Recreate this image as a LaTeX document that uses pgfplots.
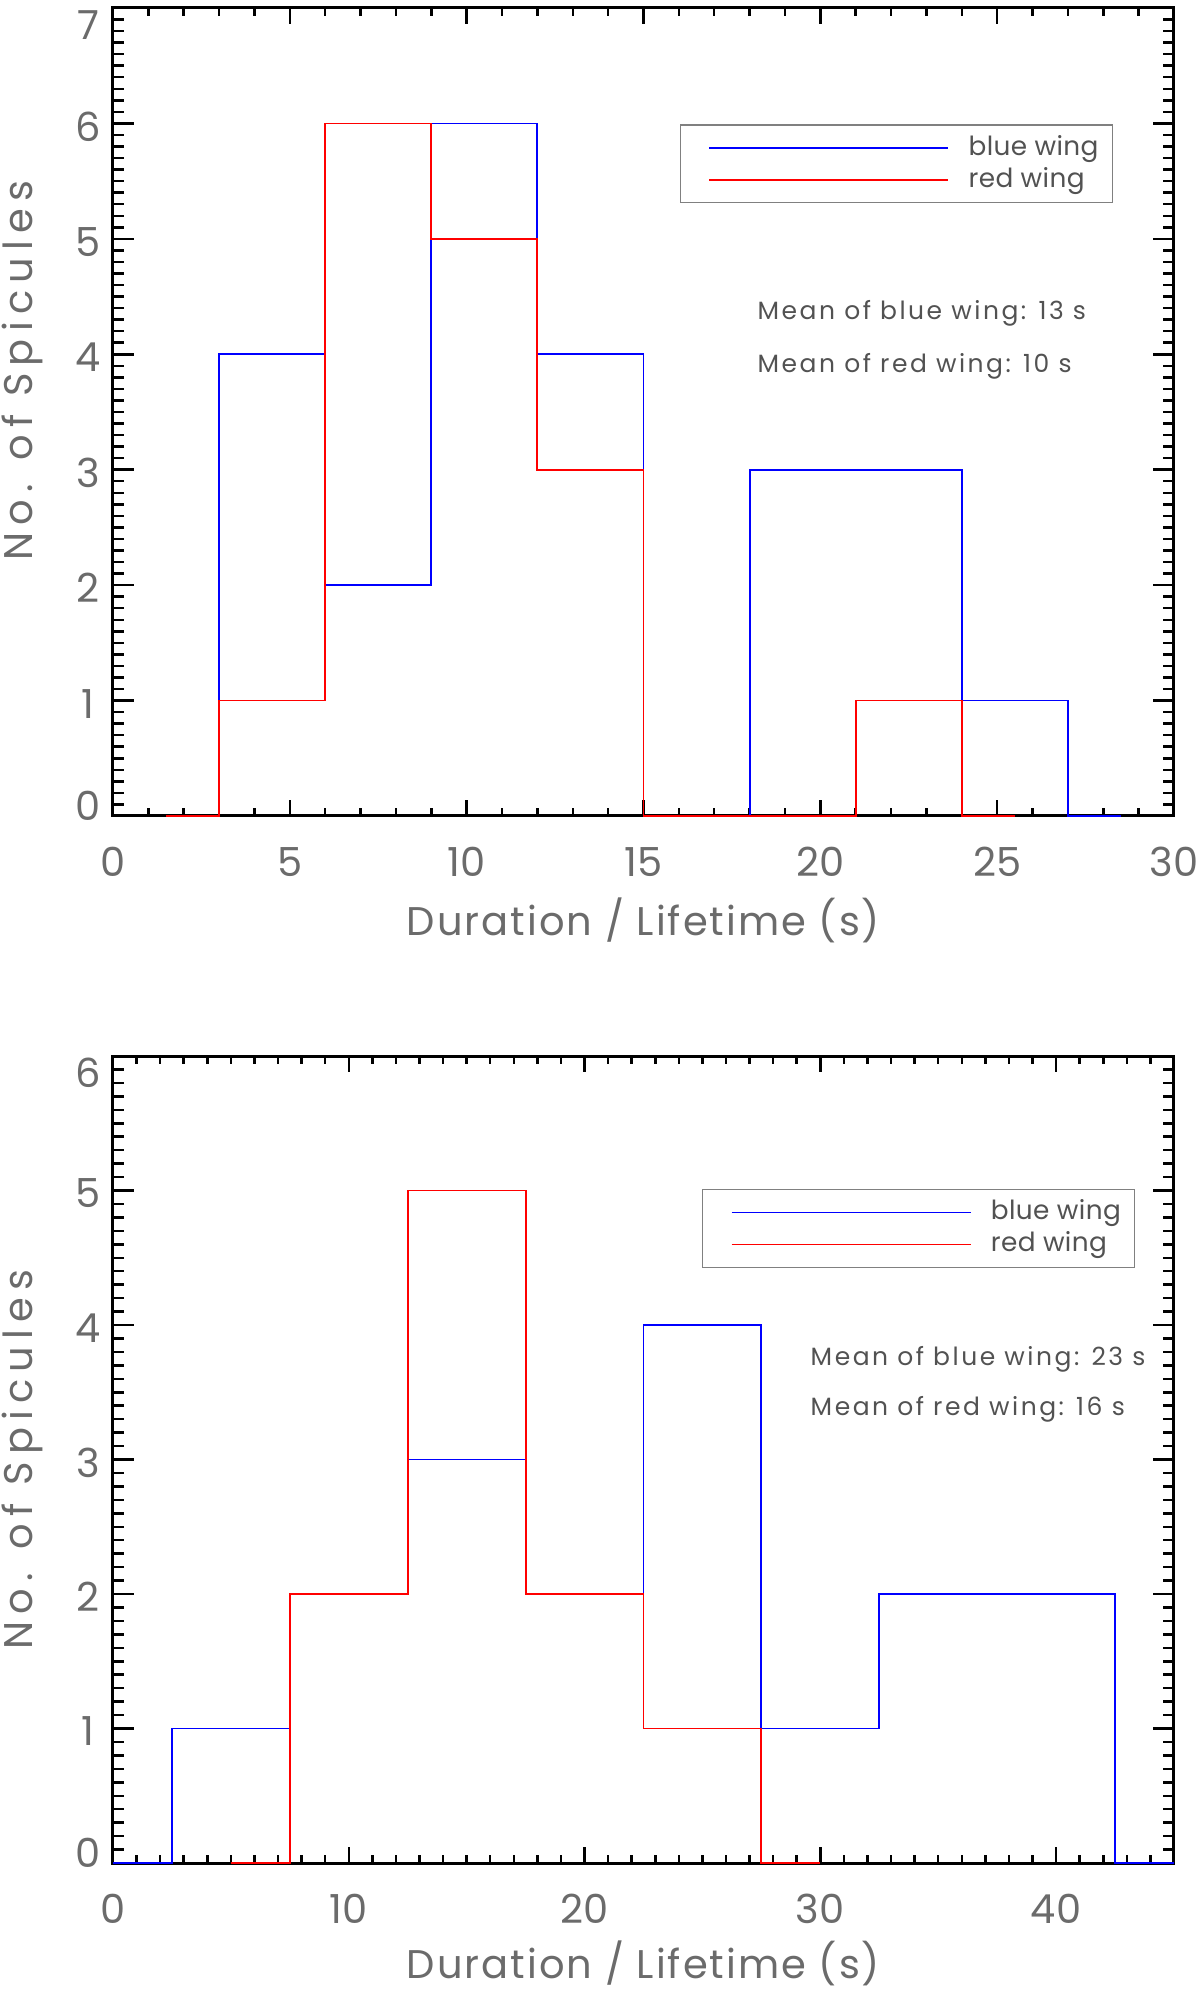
\documentclass[border=0pt]{standalone}
\usepackage{fontspec}
\setmainfont{Poppins}
\newfontfamily\xlabfont[LetterSpace=5]{Poppins}
\newfontfamily\ylabfont[LetterSpace=18]{Poppins}
\newfontfamily\meanfont[LetterSpace=10]{Poppins}
\newfontfamily\legfont[LetterSpace=1.5]{Poppins}
\usepackage{pgfplots}
\pgfplotsset{compat=1.18}
\definecolor{lbl}{gray}{0.42}
\definecolor{txt}{gray}{0.32}
\definecolor{bw}{RGB}{0,0,255}
\definecolor{rw}{RGB}{255,0,0}
\newcommand{\dn}[1]{\raisebox{-4.2pt}[\height][\depth]{#1}}
\newcommand{\up}[1]{\raisebox{3.9pt}[\height][\depth]{#1}}
\tikzset{meantxt/.style={anchor=west, inner sep=0pt, text=txt, font=\meanfont\fontsize{7.5}{9}\selectfont}}
\pgfplotsset{
  hist/.style={
    scale only axis, width=318.3pt,
    axis line style={line width=0.9pt},
    every tick/.style={black, line width=0.75pt},
    major tick length=6.3pt, minor tick length=3.2pt,
    xtick style={/pgfplots/major tick length=4.7pt,/pgfplots/minor tick length=2.3pt},
    /pgf/number format/assume math mode=true,
    tick label style={font=\fontsize{12}{14}\selectfont, text=lbl},
    xticklabel style={anchor=center, yshift=-13.8pt},
    yticklabel style={anchor=center, xshift=-7.5pt, yshift=-0.9pt},
    xlabel style={font=\xlabfont\fontsize{12}{14}\selectfont, text=lbl},
    ylabel style={font=\ylabfont\fontsize{12}{14}\selectfont, text=lbl},
    xlabel={Duration / Lifetime (s)},
    ylabel={No. of Spicules},
    minor y tick num=9,
    clip=false,
    legend cell align=left,
    legend style={draw=gray, line width=0.4pt, font=\legfont\fontsize{7.9}{9.6}\selectfont, text=txt,
      inner xsep=3.6pt, inner ysep=2.5pt, row sep=0.9pt,
      nodes={inner sep=0.5pt, text height=6pt, text depth=1.7pt}},
    legend image code/.code={\path[draw=none] (0pt,0pt) (82.4pt,0pt);\draw[#1, line width=0.4pt] (5.1pt,0pt) -- (76.8pt,0pt);},
  },
  hplot/.style={const plot mark left, line width=0.55pt, mark=none},
}
\begin{document}
\begin{tikzpicture}
\path[use as bounding box] (0pt,0pt) rectangle (360pt,597.3pt);
\begin{axis}[hist, at={(33.9pt,352.5pt)}, anchor=south west, height=242.4pt,
  xmin=0, xmax=30, ymin=0, ymax=7,
  xtick distance=5, minor x tick num=4,
  ytick={0,1,2,3,4,5,6,7},
  yticklabels={\up{0},1,2,3,4,5,6,\dn{7}},
  xlabel style={at={(axis description cs:0.5,-0.1287)}, anchor=center},
  ylabel style={at={(axis description cs:-0.0858,0.551)}, anchor=center},
  legend style={at={(axis description cs:0.534,0.856)}, anchor=north west},
]
\addplot[hplot, bw] coordinates {(1.5,0) (3,4) (6,2) (9,6) (12,4) (15,0) (18,3) (21,3) (24,1) (27,0) (28.5,0)};
\addlegendentry{blue wing}
\addplot[hplot, rw] coordinates {(1.5,0) (3,1) (6,6) (9,5) (12,3) (15,0) (18,0) (21,1) (24,0) (25.5,0)};
\addlegendentry{red wing}
\node[meantxt] at (axis description cs:0.607,0.6225) {Mean of blue wing: 13 s};
\node[meantxt] at (axis description cs:0.607,0.557) {Mean of red wing: 10 s};
\end{axis}
\begin{axis}[hist, at={(33.9pt,38.4pt)}, anchor=south west, height=242.1pt,
  xmin=0, xmax=45, ymin=0, ymax=6,
  xtick distance=10, minor x tick num=9,
  ytick={0,1,2,3,4,5,6},
  yticklabels={\up{0},1,2,3,4,5,\dn{6}},
  xlabel style={at={(axis description cs:0.5,-0.125)}, anchor=center},
  ylabel style={at={(axis description cs:-0.0858,0.5)}, anchor=center},
  legend style={at={(axis description cs:0.555,0.835)}, anchor=north west},
]
\addplot[hplot, bw] coordinates {(0,0) (2.5,1) (7.5,2) (12.5,3) (17.5,2) (22.5,4) (27.5,1) (32.5,2) (37.5,2) (42.5,0) (45,0)};
\addlegendentry{blue wing}
\addplot[hplot, rw] coordinates {(5,0) (7.5,2) (12.5,5) (17.5,2) (22.5,1) (27.5,0) (30,0)};
\addlegendentry{red wing}
\node[meantxt] at (axis description cs:0.657,0.6245) {Mean of blue wing: 23 s};
\node[meantxt] at (axis description cs:0.657,0.5626) {Mean of red wing: 16 s};
\end{axis}
\end{tikzpicture}
\end{document}
